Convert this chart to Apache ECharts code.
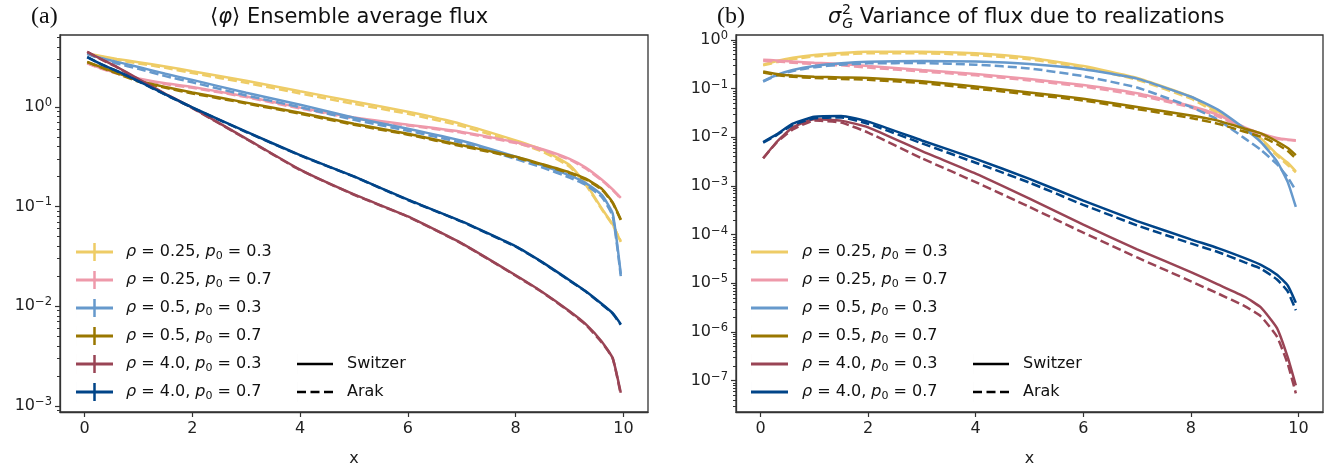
<!DOCTYPE html>
<html><head><meta charset="utf-8">
<script src="https://cdn.jsdelivr.net/npm/echarts@6/dist/echarts.min.js"></script>
<style>html,body{margin:0;padding:0;background:#fff}#c{width:1326px;height:472px}</style>
</head><body><div id="c"></div>
<script>
// ---------------- data ----------------
const xs = [0.05, 0.3, 0.6, 1, 1.5, 2, 3, 4, 5, 6, 7, 8, 8.5, 9, 9.3, 9.6, 9.8, 9.95];
const labels = ['ρ = 0.25, p0 = 0.3', 'ρ = 0.25, p0 = 0.7', 'ρ = 0.5, p0 = 0.3', 'ρ = 0.5, p0 = 0.7', 'ρ = 4.0, p0 = 0.3', 'ρ = 4.0, p0 = 0.7'];
const colors = ['#EECC66', '#EE99AA', '#6699CC', '#997700', '#994455', '#004488'];
const styleNames = ['Switzer', 'Arak'];

// (a) ensemble average flux  <φ>
const flux_r025_p03_S = [3.4, 3.24, 3.02, 2.8, 2.54, 2.27, 1.82, 1.43, 1.13, 0.89, 0.67, 0.46, 0.37, 0.26, 0.17, 0.095, 0.066, 0.044];
const flux_r025_p03_A = [3.4, 3.2, 2.96, 2.72, 2.46, 2.18, 1.74, 1.36, 1.07, 0.85, 0.64, 0.44, 0.355, 0.25, 0.165, 0.093, 0.065, 0.045];
const flux_r025_p07_S = [2.75, 2.45, 2.18, 1.92, 1.72, 1.58, 1.27, 0.98, 0.78, 0.66, 0.56, 0.44, 0.375, 0.3, 0.245, 0.185, 0.148, 0.122];
const flux_r025_p07_A = [2.72, 2.42, 2.15, 1.89, 1.69, 1.55, 1.25, 0.96, 0.765, 0.65, 0.55, 0.432, 0.368, 0.295, 0.24, 0.182, 0.146, 0.12];
const flux_r05_p03_S = [3.39, 3.09, 2.82, 2.51, 2.14, 1.86, 1.38, 1.05, 0.776, 0.603, 0.457, 0.316, 0.257, 0.205, 0.172, 0.13, 0.085, 0.021];
const flux_r05_p03_A = [3.39, 3.02, 2.72, 2.4, 2.03, 1.76, 1.3, 0.99, 0.74, 0.575, 0.435, 0.3, 0.245, 0.195, 0.164, 0.124, 0.08, 0.02];
const flux_r05_p07_S = [2.82, 2.51, 2.19, 1.82, 1.58, 1.39, 1.1, 0.87, 0.676, 0.537, 0.411, 0.316, 0.265, 0.22, 0.19, 0.15, 0.11, 0.074];
const flux_r05_p07_A = [2.8, 2.48, 2.16, 1.79, 1.55, 1.36, 1.08, 0.85, 0.66, 0.525, 0.402, 0.31, 0.26, 0.216, 0.187, 0.147, 0.108, 0.073];
const flux_r4_p03_S = [3.55, 3.02, 2.51, 1.9, 1.35, 0.977, 0.479, 0.234, 0.132, 0.0794, 0.0427, 0.0204, 0.0138, 0.0089, 0.0066, 0.0044, 0.003, 0.00135];
const flux_r4_p03_A = [3.55, 3.0, 2.49, 1.88, 1.34, 0.97, 0.475, 0.232, 0.131, 0.0788, 0.0424, 0.0202, 0.0137, 0.0088, 0.0065, 0.0043, 0.003, 0.0013];
const flux_r4_p07_S = [3.15, 2.69, 2.29, 1.81, 1.33, 0.984, 0.562, 0.327, 0.2, 0.117, 0.0708, 0.0398, 0.0275, 0.0182, 0.0141, 0.0105, 0.0085, 0.0066];
const flux_r4_p07_A = [3.15, 2.68, 2.28, 1.8, 1.32, 0.978, 0.558, 0.325, 0.199, 0.116, 0.0703, 0.0395, 0.0273, 0.018, 0.014, 0.0104, 0.0084, 0.0065];

// (b) variance of flux due to realizations  σ_G^2
const var_r025_p03_S = [0.31, 0.37, 0.43, 0.49, 0.54, 0.57, 0.57, 0.53, 0.43, 0.29, 0.165, 0.068, 0.034, 0.015, 0.0095, 0.0045, 0.003, 0.002];
const var_r025_p03_A = [0.3, 0.35, 0.40, 0.46, 0.5, 0.53, 0.53, 0.49, 0.4, 0.27, 0.152, 0.062, 0.031, 0.014, 0.0088, 0.0042, 0.0027, 0.0019];
const var_r025_p07_S = [0.39, 0.38, 0.36, 0.34, 0.32, 0.29, 0.24, 0.2, 0.158, 0.118, 0.08, 0.044, 0.029, 0.016, 0.012, 0.0097, 0.009, 0.0087];
const var_r025_p07_A = [0.37, 0.36, 0.34, 0.32, 0.3, 0.27, 0.225, 0.187, 0.147, 0.11, 0.074, 0.041, 0.027, 0.015, 0.0113, 0.0093, 0.0088, 0.0085];
const var_r05_p03_S = [0.143, 0.19, 0.24, 0.29, 0.33, 0.355, 0.37, 0.36, 0.32, 0.25, 0.16, 0.068, 0.037, 0.015, 0.008, 0.0032, 0.0012, 0.00037];
const var_r05_p03_A = [0.14, 0.185, 0.23, 0.275, 0.31, 0.33, 0.335, 0.31, 0.26, 0.18, 0.105, 0.042, 0.023, 0.0095, 0.0055, 0.0028, 0.0015, 0.0008];
const var_r05_p07_S = [0.225, 0.2, 0.185, 0.175, 0.17, 0.166, 0.142, 0.11, 0.083, 0.062, 0.042, 0.028, 0.022, 0.015, 0.012, 0.0082, 0.006, 0.0043];
const var_r05_p07_A = [0.215, 0.19, 0.175, 0.165, 0.158, 0.152, 0.13, 0.1, 0.076, 0.057, 0.038, 0.025, 0.019, 0.013, 0.0103, 0.0072, 0.0052, 0.0037];
const var_r4_p03_S = [0.0037, 0.008, 0.016, 0.0235, 0.022, 0.016, 0.0052, 0.0018, 5.5e-4, 1.6e-4, 5e-5, 1.7e-5, 9.5e-6, 5.3e-6, 3.2e-6, 1.2e-6, 3e-7, 8e-8];
const var_r4_p03_A = [0.0037, 0.0078, 0.0145, 0.022, 0.02, 0.0125, 0.0037, 0.0012, 3.7e-4, 1.1e-4, 3.4e-5, 1.1e-5, 6.2e-6, 3.4e-6, 2.1e-6, 8e-7, 2.2e-7, 5.5e-8];
const var_r4_p07_S = [0.008, 0.0115, 0.019, 0.0265, 0.0275, 0.021, 0.0086, 0.0036, 0.0014, 5e-4, 1.9e-4, 8e-5, 5.3e-5, 3.3e-5, 2.4e-5, 1.5e-5, 9e-6, 4e-6];
const var_r4_p07_A = [0.0078, 0.011, 0.018, 0.0245, 0.0255, 0.019, 0.0075, 0.003, 0.00117, 4.1e-4, 1.55e-4, 6.6e-5, 4.4e-5, 2.7e-5, 2.0e-5, 1.2e-5, 6.8e-6, 2.8e-6];

const fluxSets = [[flux_r025_p03_S, flux_r025_p03_A], [flux_r025_p07_S, flux_r025_p07_A], [flux_r05_p03_S, flux_r05_p03_A],
                  [flux_r05_p07_S, flux_r05_p07_A], [flux_r4_p03_S, flux_r4_p03_A], [flux_r4_p07_S, flux_r4_p07_A]];
const varSets = [[var_r025_p03_S, var_r025_p03_A], [var_r025_p07_S, var_r025_p07_A], [var_r05_p03_S, var_r05_p03_A],
                 [var_r05_p07_S, var_r05_p07_A], [var_r4_p03_S, var_r4_p03_A], [var_r4_p07_S, var_r4_p07_A]];

const xTicks = [0, 2, 4, 6, 8, 10];
const fluxDecades = [-3, -2, -1, 0];
const varDecades = [-7, -6, -5, -4, -3, -2, -1, 0];

// ---------------- build ----------------
const FONT = 'DejaVu Sans';
const AX = '#333';
const yRange = [{min: -3.062, max: 0.72}, {min: -7.643, max: 0.101}];

function minors(r) {
  const out = [];
  for (let d = Math.floor(r.min) - 1; d <= Math.ceil(r.max); d++)
    for (let k = 2; k <= 9; k++) { const v = d + Math.log10(k); if (v > r.min && v < r.max) out.push(v); }
  return out;
}
function expLabel(v) {
  const n = Math.round(v);
  return '{b|10}{s|' + (n < 0 ? '\u2212' + (-n) : String(n)) + '}';
}
const grids = [
  {left: 60, top: 35, width: 588, height: 382, show: true, borderColor: AX, borderWidth: 1.3, backgroundColor: 'transparent'},
  {left: 736, top: 35, width: 587, height: 382, show: true, borderColor: AX, borderWidth: 1.3, backgroundColor: 'transparent'}
];
const xAxes = [0, 1].map(g => ({
  type: 'value', gridIndex: g, min: -0.455, max: 10.455,
  axisLine: {show: true, onZero: false, lineStyle: {color: AX, width: 1.3}},
  axisTick: {show: true, customValues: xTicks, length: 5, lineStyle: {color: AX, width: 1.2}},
  axisLabel: {customValues: xTicks, fontFamily: FONT, fontSize: 16, color: '#222', margin: 9},
  splitLine: {show: false},
  name: 'x', nameLocation: 'middle', nameGap: 39,
  nameTextStyle: {fontFamily: FONT, fontSize: 16, color: '#222'}
}));
const yAxes = [];
[fluxDecades, varDecades].forEach((dec, g) => {
  const r = yRange[g];
  yAxes.push({
    type: 'value', gridIndex: g, min: r.min, max: r.max, position: 'left',
    axisLine: {show: true, onZero: false, lineStyle: {color: AX, width: 1.3}},
    axisTick: {show: true, customValues: dec, length: 5, lineStyle: {color: AX, width: 1.2}},
    axisLabel: {customValues: dec, formatter: expLabel, margin: 8,
      rich: {b: {fontFamily: FONT, fontSize: 16, color: '#222', lineHeight: 20},
             s: {fontFamily: FONT, fontSize: 11.5, color: '#222', lineHeight: 12, verticalAlign: 'top'}}},
    splitLine: {show: false}
  });
  yAxes.push({
    type: 'value', gridIndex: g, min: r.min, max: r.max, position: 'left',
    axisLine: {show: false, onZero: false},
    axisTick: {show: true, customValues: minors(r), length: 3, lineStyle: {color: AX, width: 1}},
    axisLabel: {show: false}, splitLine: {show: false}
  });
});

const series = [];
[fluxSets, varSets].forEach((sets, g) => {
  sets.forEach((pair, i) => {
    pair.forEach((ys, k) => {
      series.push({
        type: 'line', name: k === 0 ? labels[i] : labels[i] + ' (Arak)',
        xAxisIndex: g, yAxisIndex: g * 2,
        data: xs.map((x, j) => [x, Math.log10(ys[j])]),
        symbol: 'none', showSymbol: false, smooth: 0.15,
        lineStyle: {color: colors[i], width: 2.5, type: k === 0 ? 'solid' : [9, 4]},
        itemStyle: {color: colors[i]}, z: 2 + i, silent: true, animation: false
      });
    });
  });
});
styleNames.forEach((n, k) => series.push({
  type: 'line', name: n, xAxisIndex: 0, yAxisIndex: 0, data: [], symbol: 'none',
  lineStyle: {color: '#000', width: 2.5, type: k === 0 ? 'solid' : [9, 4]}, itemStyle: {color: '#000'}
}));

const legendRich = {
  i: {fontFamily: FONT, fontStyle: 'italic', fontSize: 16, color: '#111', lineHeight: 20},
  n: {fontFamily: FONT, fontSize: 16, color: '#111', lineHeight: 20},
  sub: {fontFamily: FONT, fontSize: 11, color: '#111', lineHeight: 12, verticalAlign: 'bottom'}
};
function legendFmt(name) {
  const m = name.match(/^ρ = ([\d.]+), p0 = ([\d.]+)$/);
  if (!m) return '{n|' + name + '}';
  return '{i|ρ}{n| = ' + m[1] + ', }{i|p}{sub|0}{n| = ' + m[2] + '}';
}
const crossIcon = 'path://M0,8.5h37v3h-37z M17.25,1h2.5v18h-2.5z M0,0h0.01v20h-0.01z';
const lineIcon = 'path://M0,8.5h37v3h-37z M0,0h0.01v20h-0.01z';
const styleIcons = ['path://M0,8.7h36v2.6h-36z M0,0h0.01v20h-0.01z',
                    'path://M0,8.7h9v2.6h-9z M13.5,8.7h9v2.6h-9z M27,8.7h9v2.6h-9z M0,0h0.01v20h-0.01z'];
function colorLegend(left, icon, pad) {
  return {
    orient: 'vertical', left: left, top: 242, padding: 0, itemGap: 8, itemWidth: 37, itemHeight: 20,
    selectedMode: false, itemStyle: {borderWidth: 0},
    data: labels.map(l => ({name: l, icon: icon})),
    formatter: legendFmt,
    textStyle: {padding: [0, 0, 0, pad], lineHeight: 20, height: 20, rich: legendRich}
  };
}
function styleLegend(left) {
  return {
    orient: 'vertical', left: left, top: 354, padding: 0, itemGap: 8, itemWidth: 36, itemHeight: 20,
    selectedMode: false, itemStyle: {borderWidth: 0},
    data: styleNames.map((n, k) => ({name: n, icon: styleIcons[k]})), formatter: legendFmt,
    textStyle: {padding: [0, 0, 0, 9], lineHeight: 20, height: 20, rich: legendRich}
  };
}
const titleRich = {
  m: {fontFamily: FONT, fontSize: 21, fontWeight: 'normal', color: '#111', lineHeight: 26},
  i: {fontFamily: FONT, fontSize: 21, fontWeight: 'normal', fontStyle: 'italic', color: '#111', lineHeight: 26},
  g: {fontFamily: FONT, fontSize: 14, fontWeight: 'normal', fontStyle: 'italic', color: '#111', lineHeight: 14, verticalAlign: 'bottom', padding: [0, 0, 0, 1]}
};

const option = {
  animation: false,
  backgroundColor: '#fff',
  title: [
    {text: '{m|⟨}{i|φ}{m|⟩ Ensemble average flux}', left: 210, top: 5, padding: 0, textStyle: {fontWeight: 'normal', rich: titleRich}},
    {text: '{i|σ}{g|G}{m| Variance of flux due to realizations}', left: 828, top: 5, padding: 0, textStyle: {fontWeight: 'normal', rich: titleRich}},
    {text: '(a)', left: 31, top: 5, padding: 0, textStyle: {fontFamily: 'Liberation Serif', fontSize: 24, fontWeight: 'normal', color: '#111'}},
    {text: '(b)', left: 717, top: 5, padding: 0, textStyle: {fontFamily: 'Liberation Serif', fontSize: 24, fontWeight: 'normal', color: '#111'}},
    {text: '2', left: 842, top: 3, padding: 0, textStyle: {fontFamily: FONT, fontSize: 14, fontWeight: 'normal', color: '#111'}}
  ],
  grid: grids, xAxis: xAxes, yAxis: yAxes, series: series,
  legend: [colorLegend(76, crossIcon, 8), styleLegend(297), colorLegend(751, lineIcon, 9), styleLegend(973)]
};
const chart = echarts.init(document.getElementById('c'), null, {renderer: 'canvas'});
chart.setOption(option);
</script></body></html>
